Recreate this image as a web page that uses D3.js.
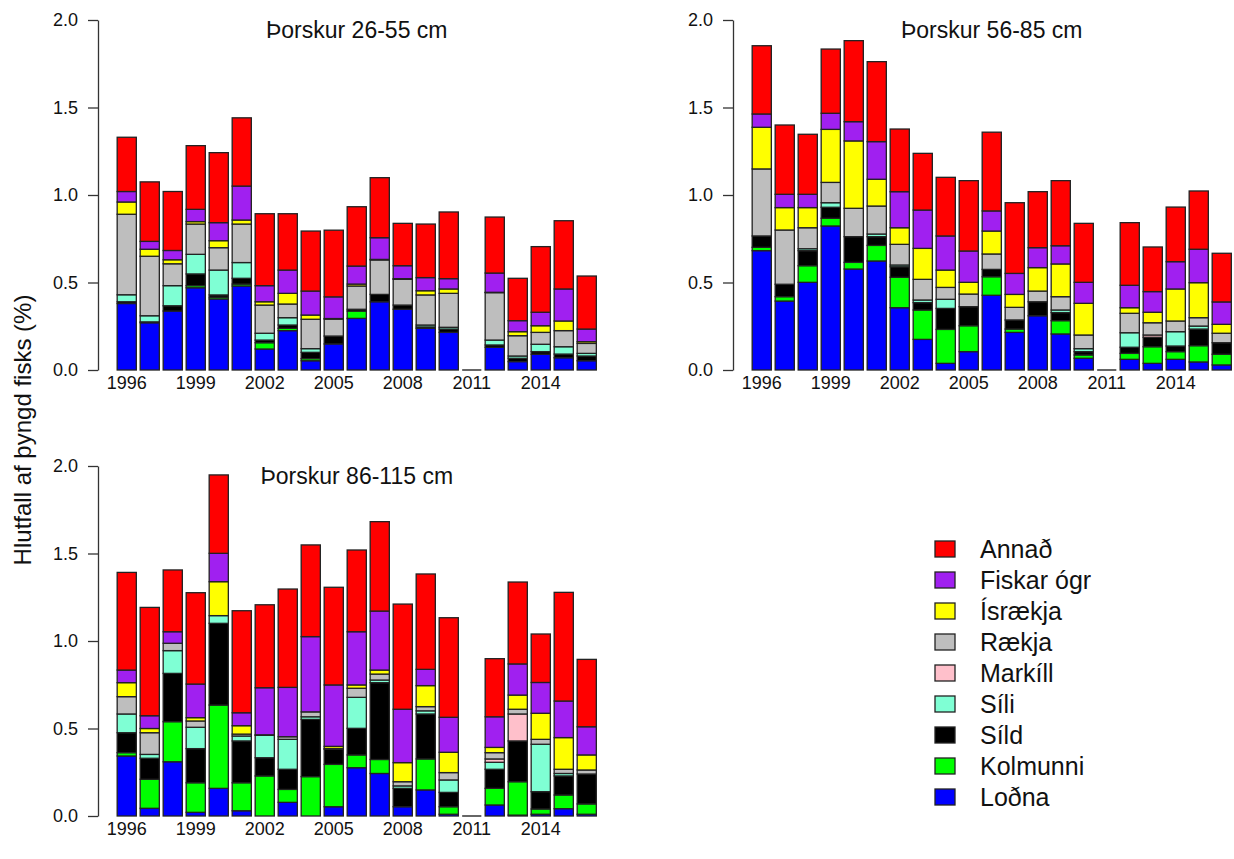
<!DOCTYPE html>
<html><head><meta charset="utf-8">
<script src="https://cdn.jsdelivr.net/npm/d3@7"></script>
<style>
body{margin:0;background:#fff}
text{font-family:"Liberation Sans",Arial,Helvetica,sans-serif;fill:#111}
</style>
</head><body><svg id="c" width="1234" height="859"></svg>
<script>
const years = ["1996","1997","1998","1999","2000","2001","2002","2003","2004","2005","2006","2007","2008","2009","2010","2011","2012","2013","2014","2015","2016"];
const yearTicks = ["1996","1999","2002","2005","2008","2011","2014"];
const yTicks = [0, 0.5, 1.0, 1.5, 2.0];
const categories = ["Loðna","Kolmunni","Síld","Síli","Markíll","Rækja","Ísrækja","Fiskar ógr","Annað"];
const colors = ["#0000FF","#00FF00","#000000","#7FFFD4","#FFC0CB","#BEBEBE","#FFFF00","#A020F0","#FF0000"];
const titles = ["Þorskur 26-55 cm","Þorskur 56-85 cm","Þorskur 86-115 cm"];

// Panel 1: Þorskur 26-55 cm
const lodna1    = [0.38,0.27,0.337,0.47,0.406,0.48,0.12,0.225,0.053,0.149,0.295,0.39,0.347,0.238,0.215,0,0.13,0.048,0.09,0.07,0.053];
const kolmunni1 = [0,0,0,0.012,0.01,0.011,0.036,0.013,0.012,0,0.042,0,0,0,0,0,0,0,0,0,0];
const sild1     = [0.01,0.005,0.03,0.067,0.013,0.033,0.015,0.019,0.036,0.045,0.01,0.042,0.024,0.008,0.019,0,0.013,0.019,0.015,0.021,0.027];
const sili1     = [0.04,0.035,0.115,0.112,0.142,0.09,0.039,0.042,0.021,0,0,0,0,0.011,0.01,0,0.028,0.013,0.042,0.042,0.015];
const markill1  = [0,0,0,0,0,0,0,0,0,0,0,0,0,0,0,0,0,0,0,0,0];
const raekja1   = [0.46,0.34,0.125,0.173,0.128,0.22,0.161,0.078,0.168,0.097,0.133,0.197,0.147,0.172,0.194,0,0.271,0.116,0.068,0.092,0.057];
const israekja1 = [0.07,0.04,0.023,0.014,0.04,0.023,0.019,0.061,0.024,0.003,0.011,0.003,0.004,0.024,0.025,0,0.002,0.023,0.038,0.055,0.01];
const fiskar1   = [0.06,0.045,0.053,0.07,0.103,0.194,0.092,0.133,0.137,0.124,0.103,0.124,0.074,0.075,0.059,0,0.11,0.063,0.077,0.183,0.072];
const annad1    = [0.31,0.34,0.337,0.364,0.40,0.39,0.411,0.322,0.343,0.381,0.339,0.343,0.242,0.306,0.381,0,0.32,0.242,0.375,0.39,0.303];

// Panel 2: Þorskur 56-85 cm
const lodna2    = [0.682,0.394,0.501,0.823,0.577,0.623,0.356,0.175,0.038,0.105,0.427,0.215,0.31,0.206,0.067,0,0.061,0.038,0.061,0.046,0.029];
const kolmunni2 = [0.019,0.025,0.095,0.044,0.038,0.089,0.174,0.168,0.194,0.148,0.106,0.019,0,0.076,0.019,0,0.034,0.095,0.044,0.093,0.061];
const sild2     = [0.065,0.071,0.086,0.063,0.147,0.05,0.06,0.042,0.12,0.109,0.042,0.052,0.08,0.046,0.019,0,0.035,0.054,0.032,0.095,0.066];
const sili2     = [0,0,0.011,0.026,0,0.015,0.01,0.015,0.052,0,0,0,0,0.015,0.017,0,0.083,0,0.082,0.017,0];
const markill2  = [0,0,0,0,0,0,0,0,0,0,0,0,0,0,0,0,0,0.013,0,0,0];
const raekja2   = [0.383,0.31,0.12,0.116,0.162,0.16,0.118,0.118,0.068,0.072,0.088,0.072,0.061,0.076,0.078,0,0.111,0.07,0.061,0.048,0.054];
const israekja2 = [0.238,0.128,0.115,0.303,0.385,0.153,0.095,0.177,0.099,0.067,0.131,0.074,0.134,0.187,0.181,0,0.032,0.06,0.183,0.2,0.051];
const fiskar2   = [0.076,0.076,0.076,0.092,0.11,0.215,0.206,0.219,0.195,0.179,0.115,0.12,0.114,0.104,0.12,0,0.128,0.118,0.156,0.191,0.128];
const annad2    = [0.39,0.396,0.343,0.367,0.463,0.457,0.358,0.324,0.335,0.402,0.45,0.404,0.32,0.372,0.337,0,0.358,0.255,0.312,0.333,0.278];

// Panel 3: Þorskur 86-115 cm
const lodna3    = [0.343,0.044,0.31,0.021,0.158,0.03,0,0.078,0,0.053,0.276,0.243,0.053,0.149,0.01,0,0.063,0.005,0.01,0.042,0.01];
const kolmunni3 = [0.019,0.166,0.229,0.169,0.476,0.16,0.229,0.074,0.225,0.242,0.073,0.08,0,0.177,0.043,0,0.095,0.191,0.03,0.078,0.059];
const sild3     = [0.114,0.12,0.276,0.195,0.467,0.239,0.104,0.115,0.327,0.086,0.152,0.439,0.105,0.257,0.082,0,0.109,0.233,0.099,0.109,0.171];
const sili3     = [0.107,0.022,0.13,0.122,0.044,0.028,0.128,0.171,0.015,0,0.177,0.015,0.014,0.018,0.071,0,0.04,0,0.271,0.014,0];
const markill3  = [0,0,0,0,0,0,0,0,0,0,0,0,0,0,0,0,0.019,0.154,0,0,0];
const raekja3   = [0.099,0.124,0.042,0.036,0,0.011,0.003,0.015,0.028,0.005,0.052,0.034,0.024,0.024,0.042,0,0.036,0.027,0.028,0.024,0.023];
const israekja3 = [0.08,0.024,0,0.019,0.194,0.048,0,0,0,0.012,0.019,0.023,0.109,0.12,0.116,0,0.03,0.081,0.149,0.181,0.086];
const fiskar3   = [0.072,0.073,0.066,0.192,0.162,0.074,0.269,0.282,0.43,0.351,0.304,0.337,0.305,0.093,0.2,0,0.175,0.178,0.176,0.209,0.161];
const annad3    = [0.558,0.619,0.353,0.522,0.448,0.583,0.474,0.562,0.524,0.558,0.467,0.511,0.601,0.545,0.569,0,0.332,0.468,0.277,0.621,0.385];

const panelSeries = [
  [lodna1,kolmunni1,sild1,sili1,markill1,raekja1,israekja1,fiskar1,annad1],
  [lodna2,kolmunni2,sild2,sili2,markill2,raekja2,israekja2,fiskar2,annad2],
  [lodna3,kolmunni3,sild3,sili3,markill3,raekja3,israekja3,fiskar3,annad3]
];

// layout (pixel geometry)
const panelBoxes = [
  {x0:98, x1:615.5, y0:370, y1:20},
  {x0:733, x1:1250.5, y0:370, y1:20},
  {x0:98, x1:615.5, y0:816, y1:466}
];

const svg = d3.select("#c");
const tickFont = 18, titleFont = 23;

panelSeries.forEach((series, p) => {
  const b = panelBoxes[p];
  const g = svg.append("g");
  const x = d3.scaleBand().domain(years).range([b.x0, b.x1]).paddingInner(1/6).paddingOuter(5/6);
  const y = d3.scaleLinear().domain([0, 2]).range([b.y0, b.y1]);
  const rows = years.map((yr, i) => {
    const r = {year: yr};
    categories.forEach((c, k) => r[c] = series[k][i]);
    return r;
  });
  const stacked = d3.stack().keys(categories)(rows);
  stacked.forEach((layer, k) => {
    g.append("g").selectAll("rect")
      .data(layer.filter(d => d[1] - d[0] > 0))
      .join("rect")
      .attr("x", d => x(d.data.year))
      .attr("width", x.bandwidth())
      .attr("y", d => y(d[1]))
      .attr("height", d => y(d[0]) - y(d[1]))
      .attr("fill", colors[k])
      .attr("stroke", "#222")
      .attr("stroke-width", 1.3);
  });
  // zero-total bars drawn as a flat border line
  const totals = rows.map(r => ({year: r.year, t: d3.sum(categories, c => r[c])}));
  g.selectAll("line.zero").data(totals.filter(d => d.t === 0)).join("line")
    .attr("x1", d => x(d.year)).attr("x2", d => x(d.year) + x.bandwidth())
    .attr("y1", y(0)).attr("y2", y(0))
    .attr("stroke", "#666").attr("stroke-width", 2);

  // y axis
  const ax = g.append("g").attr("transform", `translate(${b.x0},0)`)
    .call(d3.axisLeft(y).tickValues(yTicks).tickFormat(d3.format(".1f")).tickSize(10).tickSizeOuter(0).tickPadding(10));
  ax.select(".domain").attr("stroke", "#333").attr("stroke-width", 1.3);
  ax.selectAll(".tick line").attr("stroke", "#333").attr("stroke-width", 1.3);
  ax.selectAll(".tick text").attr("font-size", tickFont).attr("font-family", "Liberation Sans, Arial, sans-serif").attr("fill", "#111");

  // x labels
  g.selectAll("text.xl").data(yearTicks).join("text")
    .attr("x", d => x(d) + x.bandwidth() / 2)
    .attr("y", b.y0 + 13)
    .attr("dy", "0.35em")
    .attr("text-anchor", "middle")
    .attr("font-size", tickFont)
    .text(d => d);

  // title
  g.append("text")
    .attr("x", (b.x0 + b.x1) / 2)
    .attr("y", b.y1 + 10)
    .attr("dy", "0.35em")
    .attr("text-anchor", "middle")
    .attr("font-size", titleFont)
    .text(titles[p]);
});

// y label
svg.append("text")
  .attr("transform", "translate(23,430) rotate(-90)")
  .attr("text-anchor", "middle")
  .attr("dy", "0.35em")
  .attr("font-size", 24)
  .text("Hlutfall af þyngd fisks (%)");

// legend (top to bottom: Annað ... Loðna)
const legendOrder = categories.map((c, k) => ({c, col: colors[k]})).reverse();
const lg = svg.append("g");
const ly = d3.scalePoint().domain(legendOrder.map(d => d.c)).range([549, 797]);
lg.selectAll("rect").data(legendOrder).join("rect")
  .attr("x", 935).attr("y", d => ly(d.c) - 8).attr("width", 20).attr("height", 16)
  .attr("fill", d => d.col).attr("stroke", "#222").attr("stroke-width", 1.3);
lg.selectAll("text").data(legendOrder).join("text")
  .attr("x", 980).attr("y", d => ly(d.c)).attr("dy", "0.35em")
  .attr("font-size", 25)
  .text(d => d.c);
</script>
</body></html>
